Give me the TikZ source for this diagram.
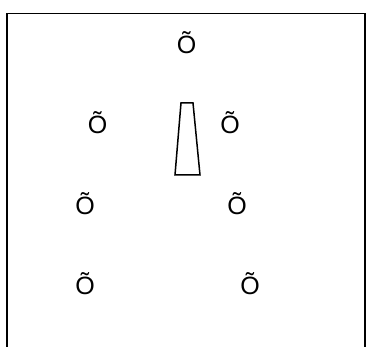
\documentclass[tikz,border=0pt]{standalone}
\usepackage{fontspec}
\setmainfont{Liberation Sans}
\usepackage{tikz}
\begin{document}
\begin{tikzpicture}[x=1pt,y=-1pt,
  glyph/.style={anchor=base,inner sep=0pt,font=\fontsize{25}{30}\selectfont},
  frameline/.style={draw=black,line width=1.6pt},
  wedge/.style={draw=black,line width=1.5pt}]
\useasboundingbox (0,0) rectangle (367,347);
% --- open frame ---
\coordinate (FBL) at (7,350);
\coordinate (FTL) at (7,13.5);
\coordinate (FTR) at (365,13.5);
\coordinate (FBR) at (365,350);
\draw[frameline] (FBL) -- (FTL) -- (FTR) -- (FBR);
% --- labels ---
\node[glyph] (top) at (186.5,53.5) {Õ};
\foreach \y/\xl/\xr/\n in {133.5/97.5/230/a,214.5/85/237/b,294.5/85/250/c} {
  \node[glyph] (L\n) at (\xl,\y) {Õ};
  \node[glyph] (R\n) at (\xr,\y) {Õ};}
% --- tapered bar ---
\coordinate (Wtl) at (181,103);
\coordinate (Wtr) at (193,103);
\coordinate (Wbr) at (200,175);
\coordinate (Wbl) at (175,175);
\draw[wedge] (Wtl) -- (Wtr) -- (Wbr) -- (Wbl) -- cycle;
\end{tikzpicture}
\end{document}
